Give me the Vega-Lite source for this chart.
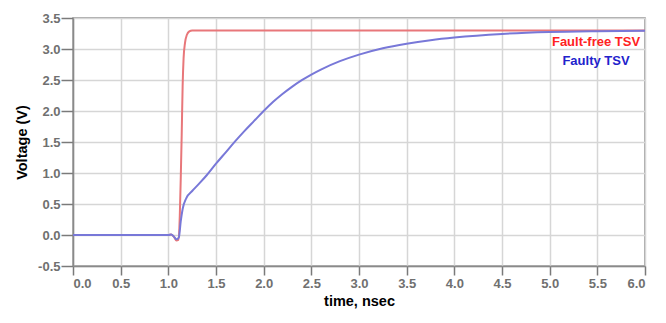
{
  "$schema": "https://vega.github.io/schema/vega-lite/v6.json",
  "width": 572,
  "height": 248,
  "autosize": {"type": "none"},
  "padding": {"left": 73, "top": 18, "right": 21, "bottom": 57},
  "background": "white",
  "config": {
    "font": "Liberation Sans",
    "view": {"stroke": "#8a8a8a", "strokeWidth": 1.5}
  },
  "data": {
    "values": [
      {"series": "Fault-free TSV", "t": 0.0, "v": 0.0},
      {"series": "Fault-free TSV", "t": 1.0, "v": 0.0},
      {"series": "Fault-free TSV", "t": 1.03, "v": 0.01},
      {"series": "Fault-free TSV", "t": 1.06, "v": -0.03},
      {"series": "Fault-free TSV", "t": 1.085, "v": -0.09},
      {"series": "Fault-free TSV", "t": 1.105, "v": -0.08},
      {"series": "Fault-free TSV", "t": 1.12, "v": 0.3},
      {"series": "Fault-free TSV", "t": 1.13, "v": 0.9},
      {"series": "Fault-free TSV", "t": 1.14, "v": 1.6},
      {"series": "Fault-free TSV", "t": 1.15, "v": 2.4},
      {"series": "Fault-free TSV", "t": 1.16, "v": 2.85},
      {"series": "Fault-free TSV", "t": 1.175, "v": 3.1},
      {"series": "Fault-free TSV", "t": 1.195, "v": 3.23},
      {"series": "Fault-free TSV", "t": 1.22, "v": 3.285},
      {"series": "Fault-free TSV", "t": 1.25, "v": 3.3},
      {"series": "Fault-free TSV", "t": 6.0, "v": 3.3},
      {"series": "Faulty TSV", "t": 0.0, "v": 0.0},
      {"series": "Faulty TSV", "t": 1.0, "v": 0.0},
      {"series": "Faulty TSV", "t": 1.03, "v": 0.01},
      {"series": "Faulty TSV", "t": 1.06, "v": -0.03},
      {"series": "Faulty TSV", "t": 1.085, "v": -0.07},
      {"series": "Faulty TSV", "t": 1.11, "v": -0.04},
      {"series": "Faulty TSV", "t": 1.13, "v": 0.22},
      {"series": "Faulty TSV", "t": 1.15, "v": 0.42},
      {"series": "Faulty TSV", "t": 1.19, "v": 0.6},
      {"series": "Faulty TSV", "t": 1.25, "v": 0.71},
      {"series": "Faulty TSV", "t": 1.33, "v": 0.84},
      {"series": "Faulty TSV", "t": 1.4, "v": 0.96},
      {"series": "Faulty TSV", "t": 1.5, "v": 1.15},
      {"series": "Faulty TSV", "t": 1.6, "v": 1.33},
      {"series": "Faulty TSV", "t": 1.7, "v": 1.51},
      {"series": "Faulty TSV", "t": 1.8, "v": 1.68},
      {"series": "Faulty TSV", "t": 1.9, "v": 1.84},
      {"series": "Faulty TSV", "t": 2.0, "v": 2.0},
      {"series": "Faulty TSV", "t": 2.1, "v": 2.148},
      {"series": "Faulty TSV", "t": 2.2, "v": 2.278},
      {"series": "Faulty TSV", "t": 2.3, "v": 2.394},
      {"series": "Faulty TSV", "t": 2.4, "v": 2.497},
      {"series": "Faulty TSV", "t": 2.5, "v": 2.588},
      {"series": "Faulty TSV", "t": 2.6, "v": 2.669},
      {"series": "Faulty TSV", "t": 2.8, "v": 2.804},
      {"series": "Faulty TSV", "t": 3.0, "v": 2.91},
      {"series": "Faulty TSV", "t": 3.25, "v": 3.013},
      {"series": "Faulty TSV", "t": 3.5, "v": 3.086},
      {"series": "Faulty TSV", "t": 3.75, "v": 3.142},
      {"series": "Faulty TSV", "t": 4.0, "v": 3.185},
      {"series": "Faulty TSV", "t": 4.5, "v": 3.243},
      {"series": "Faulty TSV", "t": 5.0, "v": 3.273},
      {"series": "Faulty TSV", "t": 5.5, "v": 3.287},
      {"series": "Faulty TSV", "t": 6.0, "v": 3.295}
    ]
  },
  "mark": {"type": "line", "strokeWidth": 2, "interpolate": "monotone"},
  "encoding": {
    "x": {
      "field": "t", "type": "quantitative",
      "scale": {"domain": [0, 6], "nice": false},
      "axis": {
        "title": "time, nsec", "values": [0,0.5,1,1.5,2,2.5,3,3.5,4,4.5,5,5.5,6],
        "labelExpr": "replace(format(datum.value, '.1f'), '\u2212', '-')",
        "grid": true, "gridColor": "#d6d6d6", "gridWidth": 1.5,
        "domainColor": "#8a8a8a", "domainWidth": 1.5,
        "tickColor": "#7a7a7a", "tickWidth": 1.5, "tickSize": 9,
        "labelColor": "#707070", "labelFont": "Liberation Sans", "labelFontWeight": "bold", "labelFontSize": 13, "labelPadding": 2,
        "titleFont": "Liberation Sans", "titleFontWeight": "bold", "titleFontSize": 14.5, "titleColor": "#000000", "titlePadding": 4
      }
    },
    "y": {
      "field": "v", "type": "quantitative",
      "scale": {"domain": [-0.5, 3.5], "nice": false},
      "axis": {
        "title": "Voltage (V)", "values": [-0.5,0,0.5,1,1.5,2,2.5,3,3.5],
        "labelExpr": "replace(format(datum.value, '.1f'), '\u2212', '-')",
        "grid": true, "gridColor": "#d6d6d6", "gridWidth": 1.5,
        "domainColor": "#8a8a8a", "domainWidth": 1.5,
        "tickColor": "#7a7a7a", "tickWidth": 1.5, "tickSize": 12,
        "labelColor": "#707070", "labelFont": "Liberation Sans", "labelFontWeight": "bold", "labelFontSize": 13, "labelPadding": 1,
        "titleFont": "Liberation Sans", "titleFontWeight": "bold", "titleFontSize": 14.5, "titleColor": "#000000", "titlePadding": 8
      }
    },
    "color": {
      "field": "series", "type": "nominal",
      "scale": {"domain": ["Fault-free TSV", "Faulty TSV"], "range": ["#e8777a", "#7878d8"]},
      "legend": {
        "orient": "none", "legendX": 510, "legendY": 17, "padding": 0, "title": null,
        "symbolSize": 0, "symbolOpacity": 0, "symbolStrokeWidth": 0,
        "labelFont": "Liberation Sans", "labelFontWeight": "bold", "labelFontSize": 13,
        "labelAlign": "center", "labelOffset": 0, "rowPadding": 5,
        "labelColor": {"expr": "datum.label == 'Fault-free TSV' ? '#ff2222' : '#2222cc'"}
      }
    }
  }
}
